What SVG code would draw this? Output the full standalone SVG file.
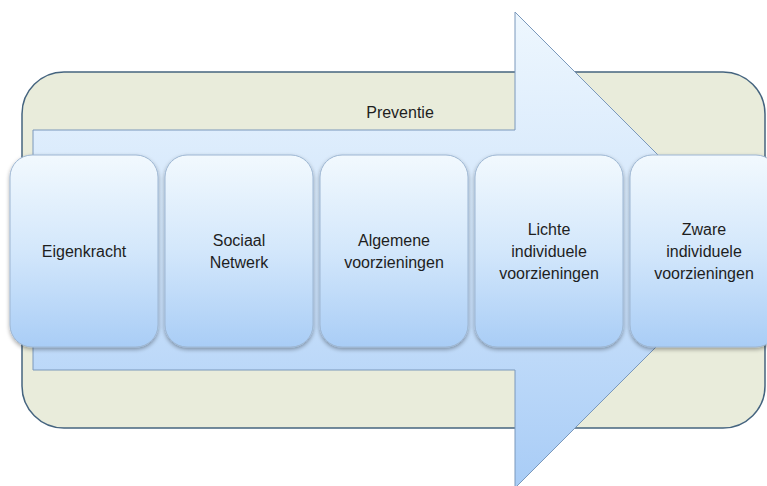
<svg xmlns="http://www.w3.org/2000/svg" width="767" height="486" viewBox="0 0 767 486">
<defs>
<linearGradient id="gNode" x1="0" y1="0" x2="0" y2="1">
<stop offset="0" stop-color="#f2f9fe"/>
<stop offset="0.5" stop-color="#d3e7fb"/>
<stop offset="1" stop-color="#a9cdf6"/>
</linearGradient>
<linearGradient id="gArrow" gradientUnits="userSpaceOnUse" x1="0" y1="12" x2="0" y2="488">
<stop offset="0" stop-color="#eef7fe"/>
<stop offset="0.5" stop-color="#cfe4fb"/>
<stop offset="1" stop-color="#a8ccf6"/>
</linearGradient>
<filter id="shadow" x="-10%" y="-10%" width="120%" height="125%">
<feGaussianBlur in="SourceAlpha" stdDeviation="2"/>
<feOffset dx="0" dy="2" result="b"/>
<feComponentTransfer><feFuncA type="linear" slope="0.35"/></feComponentTransfer>
<feMerge><feMergeNode/><feMergeNode in="SourceGraphic"/></feMerge>
</filter>
</defs>
<style>
.node rect{fill:url(#gNode);stroke:#9db6d2;stroke-width:1;filter:url(#shadow)}
text{font-family:"Liberation Sans",Arial,sans-serif;font-size:16px;fill:#1e1e1e;text-anchor:middle}
</style>
<rect width="767" height="486" fill="#ffffff"/>
<g id="preventie">
<rect x="22" y="72" width="743" height="356" rx="42" fill="#e9ecdb" stroke="#45647f" stroke-width="1.5"/>
<text x="400" y="118">Preventie</text>
</g>
<g id="arrow">
<path d="M33,130 H515 V12 L753,250 L515,488 V370 H33 Z" fill="url(#gArrow)" stroke="#7a98bb" stroke-width="1"/>
</g>
<g id="connectors"/>
<g id="n1" class="node">
<rect x="10" y="155" width="148" height="192" rx="22"/>
<text x="84" y="257">Eigenkracht</text>
</g>
<g id="n2" class="node">
<rect x="165" y="155" width="148" height="192" rx="22"/>
<text x="239" y="246">Sociaal</text>
<text x="239" y="268">Netwerk</text>
</g>
<g id="n3" class="node">
<rect x="320" y="155" width="148" height="192" rx="22"/>
<text x="394" y="246">Algemene</text>
<text x="394" y="268">voorzieningen</text>
</g>
<g id="n4" class="node">
<rect x="475" y="155" width="148" height="192" rx="22"/>
<text x="549" y="235">Lichte</text>
<text x="549" y="257">individuele</text>
<text x="549" y="279">voorzieningen</text>
</g>
<g id="n5" class="node">
<rect x="630" y="155" width="148" height="192" rx="22"/>
<text x="704" y="235">Zware</text>
<text x="704" y="257">individuele</text>
<text x="704" y="279">voorzieningen</text>
</g>
</svg>
